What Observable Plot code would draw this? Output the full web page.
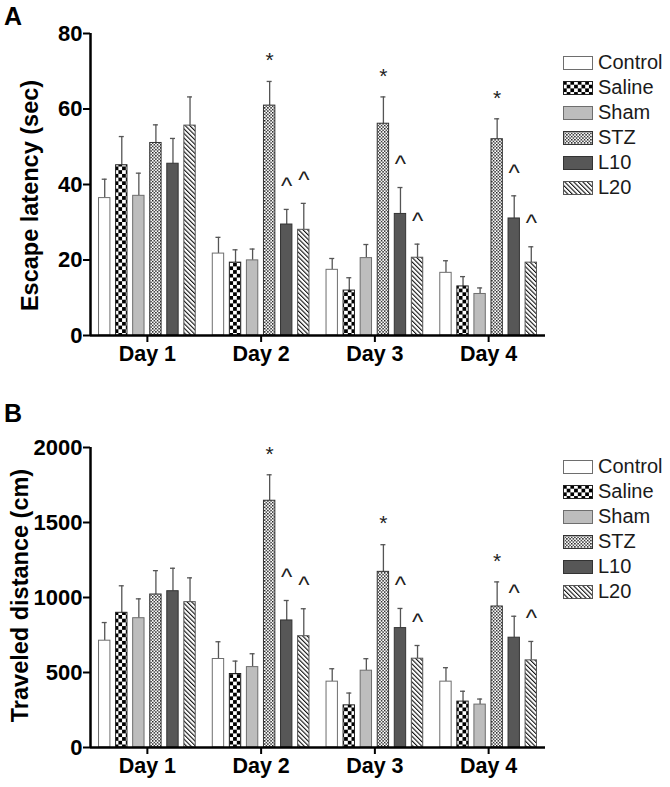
<!DOCTYPE html>
<html><head><meta charset="utf-8">
<script src="https://cdn.jsdelivr.net/npm/d3@7"></script>
<script src="https://cdn.jsdelivr.net/npm/@observablehq/plot@0.6"></script>
<style>
body{margin:0;background:#fff;}
#wrap{position:relative;width:670px;height:787px;font-family:"Liberation Sans",Arial,sans-serif;background:#fff;}
.panel{position:absolute;left:0;z-index:1;}
.tag{position:absolute;left:4px;font-size:25px;font-weight:bold;line-height:25px;color:#000;z-index:3;}
.legend{position:absolute;left:563px;z-index:2;}
.row{display:flex;align-items:center;height:25px;font-size:20px;line-height:25px;color:#1a1a1a;}
.row svg{margin-right:5px;display:block;}
#wrap svg [aria-label$="tick label"] text{font-weight:bold;}
</style></head><body>
<svg width="0" height="0" style="position:absolute">
<defs>
<pattern id="pSaline" patternUnits="userSpaceOnUse" width="7.4" height="7.4">
<rect width="7.4" height="7.4" fill="#fff"/><rect width="3.7" height="3.7" fill="#000"/><rect x="3.7" y="3.7" width="3.7" height="3.7" fill="#000"/>
</pattern>
<pattern id="pSTZ" patternUnits="userSpaceOnUse" width="3.2" height="3.2">
<rect width="3.2" height="3.2" fill="#fff"/><rect width="1.4" height="1.4" fill="#111"/><rect x="1.6" y="1.6" width="1.4" height="1.4" fill="#111"/>
</pattern>
<pattern id="pL20" patternUnits="userSpaceOnUse" width="3.2" height="3.2" patternTransform="rotate(-45)">
<rect width="3.2" height="3.2" fill="#fff"/><rect width="1.1" height="3.2" fill="#111"/>
</pattern>
</defs>
</svg>
<div id="wrap">
<div id="panelA" class="panel" style="top:0"></div>
<div id="panelB" class="panel" style="top:393px"></div>
<div class="tag" style="top:4px">A</div>
<div class="tag" style="top:401px">B</div>
<div id="legendA" class="legend" style="top:50px"></div>
<div id="legendB" class="legend" style="top:454px"></div>
</div>
<script>
const days = ["Day 1", "Day 2", "Day 3", "Day 4"];
const groups = ["Control", "Saline", "Sham", "STZ", "L10", "L20"];

// Panel A: escape latency (sec), rows = groups, columns = days
const latencyMean = [
  [36.4, 21.7, 17.4, 16.6],
  [45.1, 19.3, 11.9, 13.0],
  [37.0, 19.9, 20.5, 11.0],
  [51.0, 60.9, 56.1, 52.0],
  [45.5, 29.4, 32.2, 31.0],
  [55.6, 28.0, 20.6, 19.3]
];
const latencySem = [
  [5.0, 4.3, 3.0, 3.2],
  [7.6, 3.4, 3.4, 2.6],
  [6.0, 3.0, 3.6, 1.6],
  [4.8, 6.4, 7.1, 5.4],
  [6.7, 4.0, 7.0, 6.0],
  [7.6, 7.0, 3.6, 4.2]
];
// Panel B: traveled distance (cm)
const distanceMean = [
  [712, 590, 439, 439],
  [898, 490, 281, 306],
  [862, 536, 512, 286],
  [1020, 1645, 1171, 940],
  [1042, 847, 796, 732],
  [969, 742, 592, 581]
];
const distanceSem = [
  [121, 115, 86, 93],
  [180, 86, 82, 69],
  [129, 89, 80, 37],
  [159, 173, 181, 164],
  [153, 133, 131, 143],
  [162, 183, 88, 126]
];
const sigMarks = [
  ["", "", "", ""],
  ["", "", "", ""],
  ["", "", "", ""],
  ["", "*", "*", "*"],
  ["", "^", "^", "^"],
  ["", "^", "^", "^"]
];
const latencyTicks = [0, 20, 40, 60, 80];
const distanceTicks = [0, 500, 1000, 1500, 2000];

const groupStyle = [
  {fill: "#ffffff", stroke: "#6e6e6e"},
  {fill: "url(#pSaline)", stroke: "#222"},
  {fill: "#bdbdbd", stroke: "#6e6e6e"},
  {fill: "url(#pSTZ)", stroke: "#333"},
  {fill: "#575757", stroke: "#333"},
  {fill: "url(#pL20)", stroke: "#555"}
];
const FONT = '"Liberation Sans", Arial, sans-serif';

function makePanel({means, sems, yDomain, yTicks, height, marginTop, marginBottom, yLabel, labelDx, labelDy}) {
  const rows = [];
  groups.forEach((g, gi) => days.forEach((d, di) => rows.push({
    group: g, gi, day: di + 1, pos: di + 1 + (gi - 2.5) * 0.15,
    v: means[gi][di], e: sems[gi][di], mark: sigMarks[gi][di]
  })));
  const bars = groups.map((g, gi) => Plot.rect(rows.filter(r => r.gi === gi), {
    x1: r => r.pos - 0.05, x2: r => r.pos + 0.05, y1: 0, y2: "v",
    fill: groupStyle[gi].fill, stroke: groupStyle[gi].stroke, strokeWidth: 1
  }));
  const top = r => r.v + r.e;
  return Plot.plot({
    width: 670, height, marginLeft: 90, marginRight: 125, marginTop, marginBottom,
    style: {fontFamily: FONT, background: "white", color: "#000", overflow: "visible"},
    x: {domain: [0.5, 4.5]},
    y: {domain: yDomain},
    marks: [
      Plot.ruleX(rows, {x: "pos", y1: "v", y2: top, stroke: "#555", strokeWidth: 1.3}),
      Plot.ruleY(rows, {y: top, x1: r => r.pos - 0.022, x2: r => r.pos + 0.022, stroke: "#555", strokeWidth: 1.3}),
      ...bars,
      Plot.text(rows.filter(r => r.mark === "*"), {x: "pos", y: top, text: "mark", dy: -21, fontSize: 21, fill: "#222", fontWeight: "normal"}),
      Plot.text(rows.filter(r => r.mark === "^"), {x: "pos", y: top, text: "mark", dy: -23, fontSize: 24, fill: "#222", fontWeight: "normal"}),
      Plot.axisY({ticks: yTicks, tickFormat: d => String(d), tickSize: 7, tickPadding: 1, fontSize: 22, fontWeight: "bold", strokeWidth: 2, label: null}),
      Plot.axisX({ticks: [1, 2, 3, 4], tickFormat: d => days[d - 1], tickSize: 7, tickPadding: 3, fontSize: 21.5, fontWeight: "bold", strokeWidth: 2, label: null}),
      Plot.ruleX([0.5], {stroke: "#000", strokeWidth: 2.5}),
      Plot.ruleY([0], {stroke: "#000", strokeWidth: 2.5}),
      Plot.text([yLabel], {text: d => d, frameAnchor: "left", textAnchor: "middle", rotate: -90, dx: labelDx, dy: labelDy, fontSize: 23.5, fontWeight: "bold", fill: "#000"})
    ]
  });
}

document.getElementById("panelA").appendChild(makePanel({
  means: latencyMean, sems: latencySem, yDomain: [0, 80], yTicks: latencyTicks,
  height: 393, marginTop: 33, marginBottom: 58, yLabel: "Escape latency (sec)", labelDx: -60, labelDy: 11
}));
document.getElementById("panelB").appendChild(makePanel({
  means: distanceMean, sems: distanceSem, yDomain: [0, 2000], yTicks: distanceTicks,
  height: 394, marginTop: 54, marginBottom: 40, yLabel: "Traveled distance (cm)", labelDx: -70, labelDy: -2
}));

function makeLegend(id) {
  const el = document.getElementById(id);
  groups.forEach((g, gi) => {
    const row = document.createElement("div");
    row.className = "row";
    row.innerHTML = `<svg width="30" height="14"><rect x="0.5" y="0.5" width="29" height="13" fill="${groupStyle[gi].fill}" stroke="${groupStyle[gi].stroke}" stroke-width="1"/></svg><span>${g}</span>`;
    el.appendChild(row);
  });
}
makeLegend("legendA");
makeLegend("legendB");
</script>
</body></html>
